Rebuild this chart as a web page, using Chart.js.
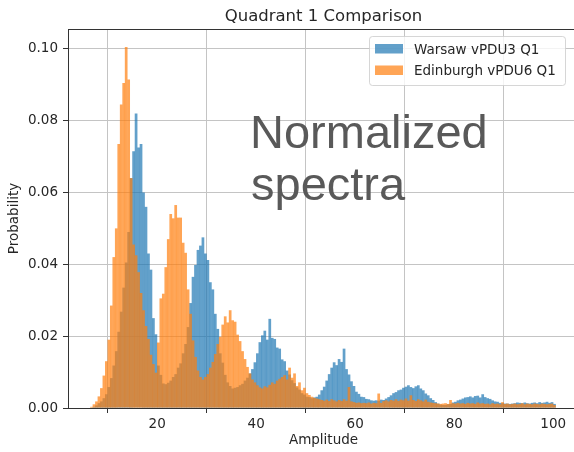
<!DOCTYPE html>
<html>
<head>
<meta charset="utf-8">
<script src="https://cdn.jsdelivr.net/npm/chart.js@4.4.1/dist/chart.umd.min.js"></script>
<style>
    html, body { margin: 0; padding: 0; background: #fff; overflow: hidden; }
    #wrap { width: 590px; height: 452px; }
</style>
</head>
<body>
<div id="wrap"><canvas id="hist" width="590" height="452"></canvas></div>
<script>
// Histogram bins: 0.5 wide, starting at amplitude 6.5
const binStart = 6.5;
const binWidth = 0.5;

// Density per bin, one row = 5 amplitude units
const warsaw = [
    0.0000, 0.0003, 0.0007, 0.0013, 0.0018, 0.0027, 0.0038, 0.0058, 0.0083, 0.0118,
    0.0158, 0.0212, 0.0268, 0.0335, 0.0405, 0.0490, 0.0640, 0.0715, 0.0820, 0.0725,
    0.0735, 0.0600, 0.0560, 0.0430, 0.0385, 0.0250, 0.0205, 0.0118, 0.0092, 0.0068,
    0.0066, 0.0070, 0.0076, 0.0086, 0.0094, 0.0112, 0.0124, 0.0152, 0.0178, 0.0225,
    0.0292, 0.0365, 0.0398, 0.0440, 0.0452, 0.0475, 0.0430, 0.0412, 0.0350, 0.0330,
    0.0262, 0.0220, 0.0152, 0.0126, 0.0092, 0.0071, 0.0061, 0.0054, 0.0056, 0.0058,
    0.0063, 0.0067, 0.0076, 0.0084, 0.0096, 0.0108, 0.0127, 0.0152, 0.0183, 0.0202,
    0.0215, 0.0190, 0.0248, 0.0195, 0.0192, 0.0168, 0.0165, 0.0135, 0.0130, 0.0104,
    0.0093, 0.0077, 0.0069, 0.0057, 0.0051, 0.0041, 0.0037, 0.0031, 0.0030, 0.0027,
    0.0029, 0.0031, 0.0037, 0.0049, 0.0059, 0.0076, 0.0094, 0.0112, 0.0127, 0.0119,
    0.0136, 0.0128, 0.0165, 0.0108, 0.0093, 0.0074, 0.0061, 0.0045, 0.0039, 0.0031,
    0.0030, 0.0025, 0.0024, 0.0021, 0.0020, 0.0021, 0.0020, 0.0023, 0.0022, 0.0026,
    0.0030, 0.0035, 0.0041, 0.0044, 0.0049, 0.0051, 0.0056, 0.0059, 0.0063, 0.0058,
    0.0055, 0.0060, 0.0063, 0.0054, 0.0049, 0.0040, 0.0035, 0.0027, 0.0022, 0.0016,
    0.0012, 0.0009, 0.0008, 0.0008, 0.0010, 0.0011, 0.0015, 0.0017, 0.0021, 0.0023,
    0.0026, 0.0029, 0.0030, 0.0032, 0.0029, 0.0033, 0.0034, 0.0029, 0.0038, 0.0030,
    0.0027, 0.0025, 0.0021, 0.0018, 0.0017, 0.0014, 0.0013, 0.0012, 0.0012, 0.0011,
    0.0012, 0.0013, 0.0015, 0.0014, 0.0013, 0.0015, 0.0013, 0.0012, 0.0014, 0.0015,
    0.0013, 0.0016, 0.0014, 0.0015, 0.0017, 0.0014, 0.0016, 0.0011
];

const edinburgh = [
    0.0003, 0.0010, 0.0018, 0.0032, 0.0055, 0.0090, 0.0130, 0.0190, 0.0285, 0.0420,
    0.0500, 0.0735, 0.0845, 0.0905, 0.1005, 0.0915, 0.0640, 0.0455, 0.0425, 0.0378,
    0.0320, 0.0272, 0.0228, 0.0192, 0.0148, 0.0122, 0.0098, 0.0182, 0.0305, 0.0318,
    0.0392, 0.0470, 0.0540, 0.0528, 0.0565, 0.0530, 0.0530, 0.0460, 0.0432, 0.0330,
    0.0262, 0.0188, 0.0142, 0.0104, 0.0086, 0.0079, 0.0086, 0.0094, 0.0112, 0.0128,
    0.0150, 0.0178, 0.0198, 0.0232, 0.0255, 0.0238, 0.0272, 0.0244, 0.0240, 0.0204,
    0.0186, 0.0158, 0.0136, 0.0114, 0.0096, 0.0079, 0.0071, 0.0063, 0.0057, 0.0054,
    0.0060, 0.0057, 0.0064, 0.0071, 0.0067, 0.0076, 0.0081, 0.0086, 0.0091, 0.0079,
    0.0112, 0.0084, 0.0096, 0.0061, 0.0071, 0.0049, 0.0056, 0.0041, 0.0036, 0.0031,
    0.0028, 0.0026, 0.0024, 0.0022, 0.0020, 0.0023, 0.0019, 0.0024, 0.0021, 0.0018,
    0.0022, 0.0019, 0.0024, 0.0020, 0.0058, 0.0018, 0.0016, 0.0014, 0.0015, 0.0013,
    0.0014, 0.0013, 0.0015, 0.0012, 0.0014, 0.0013, 0.0040, 0.0014, 0.0019, 0.0021,
    0.0018, 0.0022, 0.0020, 0.0024, 0.0019, 0.0023, 0.0021, 0.0026, 0.0020, 0.0035,
    0.0022, 0.0019, 0.0024, 0.0021, 0.0018, 0.0023, 0.0017, 0.0015, 0.0014, 0.0013,
    0.0012, 0.0011, 0.0012, 0.0013, 0.0011, 0.0022, 0.0013, 0.0012, 0.0014, 0.0012,
    0.0013, 0.0011, 0.0014, 0.0012, 0.0013, 0.0011, 0.0015, 0.0012, 0.0013, 0.0011,
    0.0012, 0.0010, 0.0013, 0.0011, 0.0012, 0.0010, 0.0016, 0.0011, 0.0012, 0.0010,
    0.0011, 0.0012, 0.0010, 0.0011, 0.0013, 0.0010, 0.0012, 0.0011, 0.0010, 0.0012,
    0.0011, 0.0010, 0.0012, 0.0011, 0.0010, 0.0011, 0.0012, 0.0008
];

const seriesLabels = ['Warsaw vPDU3 Q1', 'Edinburgh vPDU6 Q1'];
const xTicks = [20, 40, 60, 80, 100];
const yTicks = [0, 0.02, 0.04, 0.06, 0.08, 0.10];
const chartTitle = 'Quadrant 1 Comparison';
const noteLines = ['Normalized', 'spectra'];

const BLUE = 'rgba(31, 119, 180, 0.7)';
const ORANGE = 'rgba(255, 127, 14, 0.7)';
const GRID = '#c4c4c4';
const AXIS = '#333333';
const TEXT = '#262626';
const FONT = '"DejaVu Sans", sans-serif';

// bin centres for the linear x axis
const binCentres = warsaw.map((_, i) => binStart + binWidth * (i + 0.5));
const toPoints = values => values.map((y, i) => ({ x: binCentres[i], y }));

// spines, title, legend box and the big note drawn on top of the bars
const overlay = {
    id: 'overlay',
    afterDatasetsDraw(chart) {
        const { ctx, chartArea: a } = chart;
        ctx.save();

        ctx.strokeStyle = AXIS;
        ctx.lineWidth = 1;
        ctx.strokeRect(Math.round(a.left) + 0.5, Math.round(a.top) + 0.5,
            Math.round(a.right - a.left), Math.round(a.bottom - a.top));

        ctx.fillStyle = TEXT;
        ctx.font = '16.5px ' + FONT;
        ctx.textAlign = 'center';
        ctx.textBaseline = 'alphabetic';
        ctx.fillText(chartTitle, (a.left + a.right) / 2, a.top - 8);

        // legend
        const lx = 369, ly = 36, lw = 196, lh = 49;
        ctx.beginPath();
        ctx.roundRect(lx + 0.5, ly + 0.5, lw, lh, 3);
        ctx.fillStyle = 'rgba(255,255,255,0.8)';
        ctx.fill();
        ctx.strokeStyle = 'rgba(204,204,204,0.8)';
        ctx.stroke();
        ctx.font = '13.5px ' + FONT;
        ctx.textAlign = 'left';
        [BLUE, ORANGE].forEach((color, i) => {
            const rowY = ly + 8 + i * 21.5;
            ctx.fillStyle = color;
            ctx.fillRect(lx + 6, rowY, 28, 9.5);
            ctx.fillStyle = TEXT;
            ctx.fillText(seriesLabels[i], lx + 45, rowY + 9.5);
        });

        ctx.fillStyle = '#595959';
        ctx.font = '47px "Liberation Sans", Arial, sans-serif';
        ctx.fillText(noteLines[0], 250, 148);
        ctx.fillText(noteLines[1], 251, 200);

        ctx.restore();
    }
};

new Chart(document.getElementById('hist'), {
    type: 'bar',
    data: {
        datasets: [
            { label: seriesLabels[0], data: toPoints(warsaw), backgroundColor: BLUE, order: 2 },
            { label: seriesLabels[1], data: toPoints(edinburgh), backgroundColor: ORANGE, order: 1 }
        ]
    },
    options: {
        responsive: false,
        animation: false,
        layout: { padding: { top: 29, right: 11, left: 0, bottom: 0 } },
        datasets: {
            bar: {
                grouped: false,
                barPercentage: 1,
                categoryPercentage: 1,
                borderWidth: 0,
                inflateAmount: 0.12
            }
        },
        plugins: {
            legend: { display: false },
            tooltip: { enabled: false }
        },
        scales: {
            x: {
                type: 'linear',
                min: 2.0,
                max: 105.2,
                offset: false,
                afterBuildTicks: s => { s.ticks = xTicks.map(v => ({ value: v })); },
                afterFit: s => { s.height = 44; },
                grid: { color: GRID, lineWidth: 1, tickLength: 5, tickColor: AXIS },
                border: { display: false },
                ticks: {
                    color: TEXT,
                    font: { family: FONT, size: 13.5 },
                    padding: 3,
                    maxRotation: 0,
                    callback: v => String(v)
                },
                title: {
                    display: true,
                    text: 'Amplitude',
                    color: TEXT,
                    font: { family: FONT, size: 13.5 },
                    padding: { top: 0, bottom: 3 }
                }
            },
            y: {
                min: 0,
                max: 0.10557,
                afterBuildTicks: s => { s.ticks = yTicks.map(v => ({ value: v })); },
                afterFit: s => { s.width = 68; },
                grid: { color: GRID, lineWidth: 1, tickLength: 5, tickColor: AXIS },
                border: { display: false },
                ticks: {
                    color: TEXT,
                    font: { family: FONT, size: 13.5 },
                    padding: 5,
                    callback: v => v.toFixed(2)
                },
                title: {
                    display: true,
                    text: 'Probability',
                    color: TEXT,
                    font: { family: FONT, size: 13.5 },
                    padding: { top: 6, bottom: 0 }
                }
            }
        }
    },
    plugins: [overlay]
});
</script>
</body>
</html>
